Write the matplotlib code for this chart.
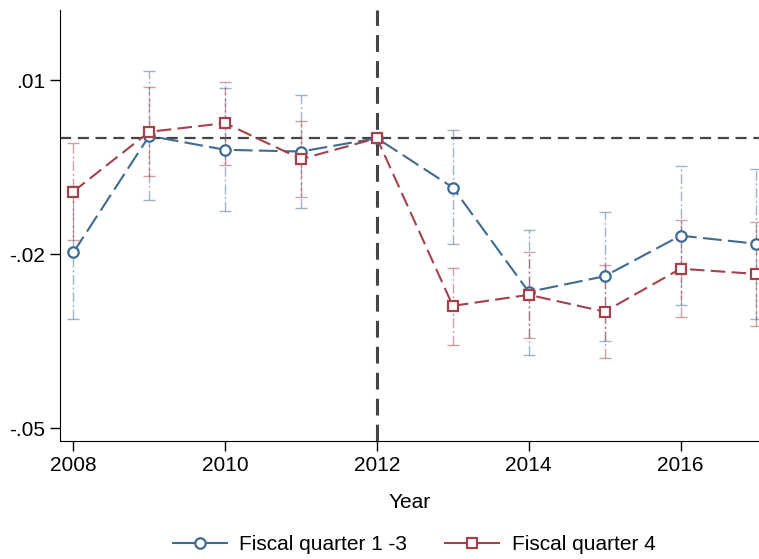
import matplotlib.pyplot as plt
from matplotlib.lines import Line2D
import numpy as np

plt.rcParams['font.family'] = ['Liberation Sans', 'DejaVu Sans']

years = [2008, 2009, 2010, 2011, 2012, 2013, 2014, 2015, 2016, 2017]

# Fiscal quarter 1-3: point estimate and 95% CI
q13 = [-0.0197, 0.0004, -0.0020, -0.0023, 0.0, -0.0085, -0.0265, -0.0238, -0.0168, -0.0182]
q13_hi = [-0.0082, 0.0115, 0.0086, 0.0075, 0.0, 0.0014, -0.0159, -0.0127, -0.0048, -0.0053]
q13_lo = [-0.0312, -0.0107, -0.0125, -0.0121, 0.0, -0.0183, -0.0374, -0.0350, -0.0288, -0.0311]

# Fiscal quarter 4
q4 = [-0.0092, 0.0011, 0.0026, -0.0036, 0.0, -0.0289, -0.0270, -0.0299, -0.0225, -0.0234]
q4_hi = [-0.0009, 0.0088, 0.0097, 0.0030, 0.0, -0.0223, -0.0196, -0.0218, -0.0141, -0.0144]
q4_lo = [-0.0176, -0.0066, -0.0047, -0.0102, 0.0, -0.0356, -0.0344, -0.0379, -0.0309, -0.0324]

blue = '#3f6b91'
red = '#a3424b'

fig = plt.figure(figsize=(7.59, 5.59), dpi=100)
ax = fig.add_axes([60.5/759, 118/559, 1 - 60.5/759, (441-10)/559])

ax.axhline(0, color='#444444', lw=1.6, ls=(0, (5, 3)), zorder=1)
ax.axvline(2012, color='#444444', lw=2.2, ls=(0, (5.5, 3)), zorder=1)

def draw_series(y, lo, hi, color, marker, dash):
    y = np.array(y)
    yerr = [y - np.array(lo), np.array(hi) - y]
    # skip the base year (no CI)
    mask = np.array(years) != 2012
    eb = ax.errorbar(np.array(years)[mask], y[mask], yerr=[yerr[0][mask], yerr[1][mask]],
                     fmt='none', ecolor=color, elinewidth=1.0, capsize=4.5, capthick=1.0,
                     alpha=0.5, zorder=2)
    for lc in eb[2]:
        lc.set_linestyle((0, (7, 2, 1.5, 2)))
    ax.plot(years, y, color=color, lw=1.5, ls=(0, dash), zorder=3)
    ax.plot(years, y, ls='none', marker=marker, ms=7.5, mfc='white', mec=color,
            mew=1.6, zorder=4)

draw_series(q13, q13_lo, q13_hi, blue, 'o', (9, 3))
draw_series(q4, q4_lo, q4_hi, red, 's', (7, 3))

ax.set_xlim(2007.831, 2017.034)
ax.set_ylim(-0.0522, 0.0221)
ax.set_xticks([2008, 2010, 2012, 2014, 2016])
ax.set_yticks([0.01, -0.02, -0.05])
ax.set_yticklabels(['.01', '-.02', '-.05'])
ax.tick_params(axis='both', direction='out', length=7, width=1, labelsize=15, pad=4)
ax.spines['top'].set_visible(False)
ax.spines['right'].set_visible(False)
ax.set_xlabel('Year', fontsize=15, labelpad=13)

handles = [
    Line2D([0], [0], color=blue, lw=1.5, marker='o', ms=7.5, mfc='white', mec=blue, mew=1.6),
    Line2D([0], [0], color=red, lw=1.5, marker='s', ms=7.5, mfc='white', mec=red, mew=1.6),
]
fig.legend(handles, ['Fiscal quarter 1 -3', 'Fiscal quarter 4'], loc='center',
           bbox_to_anchor=(414/759, 1 - 545/559), ncol=2, frameon=False, fontsize=15,
           handlelength=2.6, columnspacing=1.8, handletextpad=0.6)

fig.savefig('out.png', dpi=100)
